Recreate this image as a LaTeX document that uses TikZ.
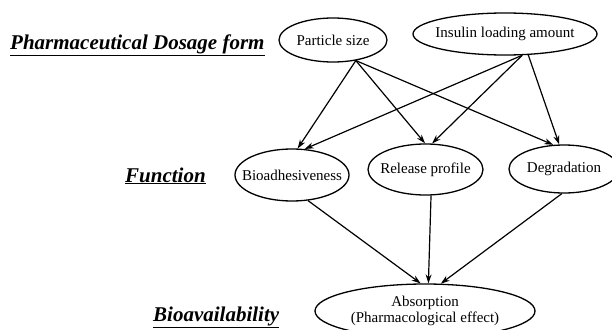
\documentclass[tikz,border=0pt]{standalone}
\usepackage{fontspec}
\setmainfont{Liberation Serif}
\usetikzlibrary{shapes.geometric,arrows.meta}
\newcommand\zw[1]{\makebox[0pt]{#1}}
\begin{document}
\begin{tikzpicture}[x=1pt,y=-1pt,
  oval/.style={ellipse,draw,line width=1.3pt,inner sep=0pt,align=center,
    font=\fontsize{15}{16}\selectfont},
  level/.style={anchor=base west,inner sep=0pt,
    font=\fontsize{21}{24}\selectfont\bfseries\itshape},
  link/.style={line width=1.2pt,-{Stealth[length=9pt,width=6pt]}}]
\useasboundingbox (0,0) rectangle (612,329);
\node[level] (l1) at (10,49) {\underline{Pharmaceutical Dosage form}};
\node[level] (l2) at (125,182) {\underline{Function}};
\node[level] (l3) at (153,321) {\underline{Bioavailability}};
\node[oval,minimum width=108pt,minimum height=44pt] (ps) at (333,40) {\zw{Particle size}};
\node[oval,minimum width=184pt,minimum height=42pt] (ins) at (505,34) {\zw{Insulin loading amount}};
\node[oval,minimum width=114pt,minimum height=52pt] (bio) at (292,175) {\zw{Bioadhesiveness}};
\node[oval,minimum width=115pt,minimum height=51pt] (rel) at (425.5,169.5) {\zw{Release profile}};
\node[oval,minimum width=110pt,minimum height=48pt] (deg) at (564,169) {\zw{Degradation}};
\node[oval,minimum width=220pt,minimum height=54pt] (abs) at (425,311) {\zw{Absorption}\\\zw{(Pharmacological effect)}};
\draw[link] (ps.-42) -- (bio.78);
\draw[link] (ps.-42) -- (rel.91);
\draw[link] (ps.-42) -- (deg.114);
\draw[link] (ins.-51) -- (bio.64);
\draw[link] (ins.-51) -- (rel.76);
\draw[link] (ins.-42) -- (deg.101);
\draw[link] (bio.-58) -- (abs.99);
\draw[link] (rel.-78) -- (abs.83);
\draw[link] (deg.-95) -- (abs.60);
\end{tikzpicture}
\end{document}
